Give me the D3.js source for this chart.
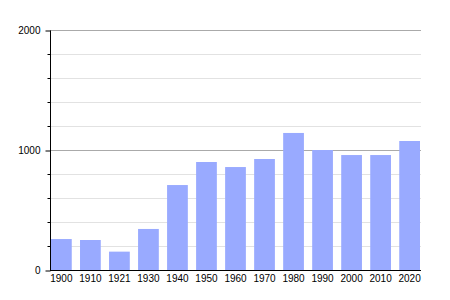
<!DOCTYPE html>
<html>
<head>
<meta charset="utf-8">
<script src="https://cdn.jsdelivr.net/npm/d3@7"></script>
<style>
  body { margin: 0; background: #fff; }
  text { font-family: "Liberation Sans", Arial, sans-serif; font-size: 10px; fill: #000; }
</style>
</head>
<body>
<svg id="chart" width="450" height="300"></svg>
<script>
// census years and population
var years = ["1900", "1910", "1921", "1930", "1940", "1950", "1960", "1970", "1980", "1990", "2000", "2010", "2020"];
var population = [258, 250, 153, 342, 708, 900, 858, 925, 1142, 1000, 958, 958, 1075];
var majorTicks = [0, 1000, 2000];
var minorTicks = [200, 400, 600, 800, 1200, 1400, 1600, 1800];

var svg = d3.select("#chart");

var x = d3.scaleBand()
    .domain(years)
    .range([51, 420])
    .paddingInner(0.285)
    .paddingOuter(0);

var y = d3.scaleLinear()
    .domain([0, 2000])
    .range([270, 30]);

var left = 50, right = 421;

// minor grid lines
svg.append("g").selectAll("line")
    .data(minorTicks)
    .enter().append("line")
    .attr("x1", left).attr("x2", right)
    .attr("y1", function(d) { return y(d) + 0.5; })
    .attr("y2", function(d) { return y(d) + 0.5; })
    .attr("stroke", "#e2e2e2");

// major grid lines
svg.append("g").selectAll("line")
    .data(majorTicks.slice(1))
    .enter().append("line")
    .attr("x1", left).attr("x2", right)
    .attr("y1", function(d) { return y(d) + 0.5; })
    .attr("y2", function(d) { return y(d) + 0.5; })
    .attr("stroke", "#aaaaaa");

// bars
svg.append("g").selectAll("rect")
    .data(population)
    .enter().append("rect")
    .attr("x", function(d, i) { return x(years[i]); })
    .attr("y", function(d) { return y(d); })
    .attr("width", x.bandwidth())
    .attr("height", function(d) { return y(0) - y(d); })
    .attr("fill", "#99aaff");

// y axis with major labels
var yAxis = d3.axisLeft(y)
    .tickValues(majorTicks)
    .tickSize(5)
    .tickPadding(5)
    .tickFormat(d3.format("d"));

var gy = svg.append("g")
    .attr("transform", "translate(" + (left + 0.5) + ",0.5)")
    .call(yAxis);
gy.select(".domain").attr("stroke", "#000").attr("d", "M0," + y(2000) + "V" + y(0));
gy.selectAll("text").style("font-family", "Liberation Sans, Arial, sans-serif").style("font-size", "10px");

// minor ticks
gy.selectAll(".minor")
    .data(minorTicks)
    .enter().append("line")
    .attr("class", "minor")
    .attr("x1", -3).attr("x2", 0)
    .attr("y1", function(d) { return y(d); })
    .attr("y2", function(d) { return y(d); })
    .attr("stroke", "#000");

// x axis
var xAxis = d3.axisBottom(x).tickSize(0).tickPadding(4);
var gx = svg.append("g")
    .attr("transform", "translate(0," + (y(0) + 0.5) + ")")
    .call(xAxis);
gx.select(".domain").attr("stroke", "#000").attr("d", "M" + left + ",0H" + right);
gx.selectAll("text").style("font-family", "Liberation Sans, Arial, sans-serif").style("font-size", "10px");
</script>
</body>
</html>
